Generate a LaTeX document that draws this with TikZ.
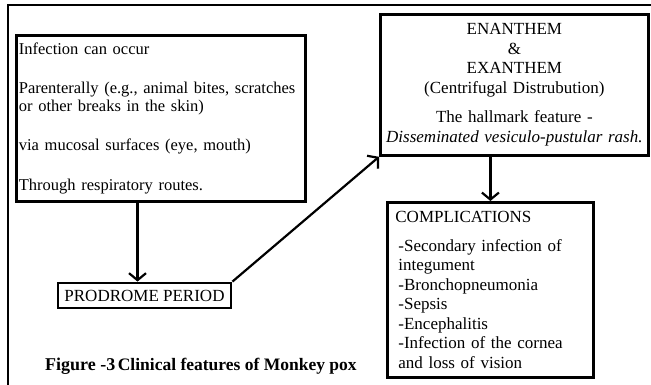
\documentclass[tikz,border=0pt]{standalone}
\usepackage{fontspec}
\setmainfont{Liberation Serif}
\usetikzlibrary{arrows.meta}
\tikzset{
  box/.style={draw,line width=2.8pt,inner sep=0pt,font=\fontsize{17}{19.5}\selectfont},
  arr/.style={line width=2.2pt,-{Straight Barb[length=7pt,width=17pt,line width=2.2pt]}}
}
\begin{document}
\begin{tikzpicture}[x=1pt,y=-1pt]
\useasboundingbox (0,0) rectangle (651,385);
\draw[line width=2.4pt] (651,5) -| (8,385);
\node[box,anchor=north west,text width=284pt,inner xsep=2.5pt,minimum height=166pt,align=left] (infect) at (15,34)
{\fontsize{16.5}{18}\selectfont Infection can occur\\[21pt]
Parenterally (e.g., animal bites, scratches\\ or other breaks in the skin)\\[21pt]
via mucosal surfaces (eye, mouth)\\[21pt]
Through respiratory routes.};
\node[box,minimum width=173pt,minimum height=25pt] (prodrome) at (144.5,295.5) {PRODROME PERIOD};
\node[box,anchor=north west,text width=266pt,inner xsep=1pt,minimum height=141pt,align=center] (rash) at (379,13)
{ENANTHEM\\ \&\\ EXANTHEM\\ (Centrifugal Distrubution)\\[10pt]
The hallmark feature -\\ \textit{Disseminated vesiculo-pustular rash.}};
\node[box,anchor=north west,text width=190pt,inner xsep=8pt,minimum height=175pt,align=left] (complic) at (386,201)
{COMPLICATIONS\\[9pt]
\hspace*{3pt}-Secondary infection of\\ \hspace*{3pt}integument\\ \hspace*{3pt}-Bronchopneumonia\\ \hspace*{3pt}-Sepsis\\
\hspace*{3pt}-Encephalitis\\ \hspace*{3pt}-Infection of the cornea\\ \hspace*{3pt}and loss of vision};
\node[anchor=base west,inner sep=0pt,font=\bfseries] (caption) at (45,370)
{{\fontsize{18}{20}\selectfont Figure -3} {\fontsize{17.5}{20}\selectfont Clinical features of Monkey pox}};
\draw[arr] ([xshift=-7pt]prodrome.north |- infect.south) -- ([xshift=-7pt]prodrome.north);
\draw[arr] (prodrome.north east) -- (rash.south west);
\draw[arr] (rash.south -| complic.north) -- (complic.north);
\end{tikzpicture}
\end{document}
